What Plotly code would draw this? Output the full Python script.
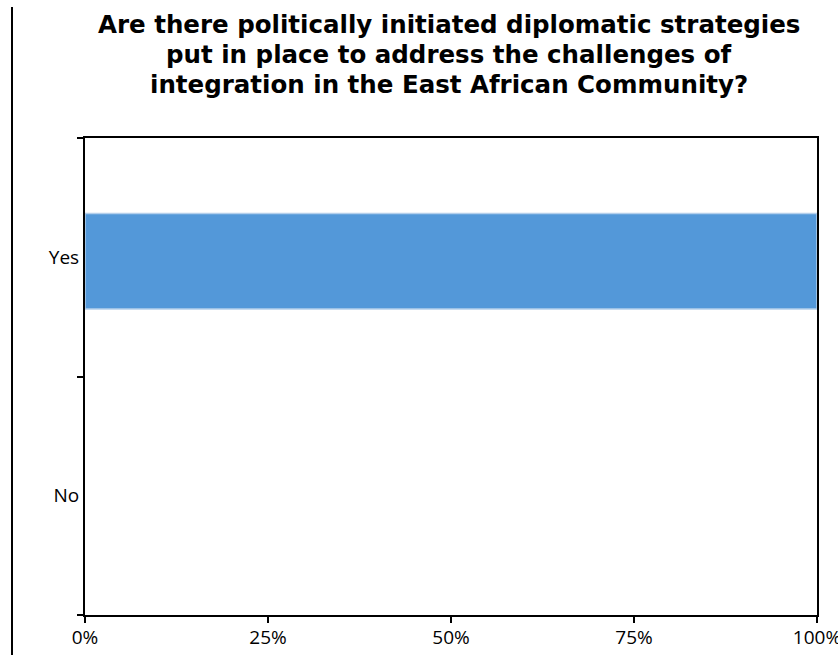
import plotly.graph_objects as go

categories = ["No", "Yes"]
shares = [0.0, 1.0]
x_ticks = [0, 0.25, 0.5, 0.75, 1.0]
x_tick_labels = ["0%", "25%", "50%", "75%", "100%"]
title_lines = [
    "Are there politically initiated diplomatic strategies",
    "put in place to address the challenges of",
    "integration in the East African Community?",
]

W, H = 838, 658
L, R, T, B = 85, 21, 138, 43
pw, ph = W - L - R, H - T - B
tick_font = dict(family="Open Sans", size=19, color="black")

fig = go.Figure()
fig.add_trace(go.Bar(
    x=shares, y=categories, orientation="h",
    width=0.4, offset=-0.217,
    marker=dict(color="#5398d9",
                line=dict(color=["rgba(0,0,0,0)", "#b4cfec"], width=1.5)),
    hoverinfo="skip", showlegend=False,
))

title_centers = [25, 55, 85]
annotations = []
for line, yc in zip(title_lines, title_centers):
    annotations.append(dict(
        text=line, showarrow=False,
        xref="paper", yref="paper",
        x=(449 - L) / pw, y=(H - B - yc) / ph,
        xanchor="center", yanchor="middle",
        font=dict(family="DejaVu Sans", size=24.5, color="black", weight="bold"),
    ))

fig.update_layout(
    width=W, height=H,
    margin=dict(l=L, r=R, t=T, b=B, autoexpand=False),
    paper_bgcolor="white", plot_bgcolor="white",
    font=tick_font,
    annotations=annotations,
    xaxis=dict(
        range=[0, 1], tickvals=x_ticks, ticktext=x_tick_labels,
        showgrid=False, zeroline=False, automargin=False,
        showline=True, linecolor="black", linewidth=2, mirror=True,
        ticks="outside", ticklen=6, tickwidth=2, tickcolor="black",
        ticklabeloverflow="allow", ticklabelstandoff=-2,
        tickfont=tick_font,
        fixedrange=True,
    ),
    yaxis=dict(
        categoryorder="array", categoryarray=categories,
        range=[-0.5, 1.5],
        showgrid=False, zeroline=False, automargin=False,
        showline=True, linecolor="black", linewidth=2, mirror=True,
        ticks="outside", ticklen=6, tickwidth=2, tickcolor="black",
        tickson="boundaries",
        tickfont=tick_font,
        fixedrange=True,
    ),
    shapes=[dict(
        type="line", xref="paper", yref="paper",
        x0=(12 - L) / pw, x1=(12 - L) / pw,
        y0=(H - B - 655) / ph, y1=(H - B - 7) / ph,
        line=dict(color="black", width=2),
    )],
)

fig.write_html("out.html")
